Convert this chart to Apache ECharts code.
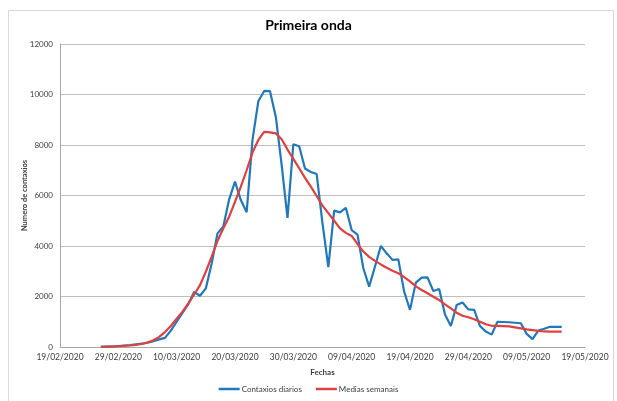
<!DOCTYPE html>
<html>
<head>
<meta charset="utf-8">
<script src="https://cdn.jsdelivr.net/npm/echarts@6/dist/echarts.min.js"></script>
<style>
  html, body { margin: 0; padding: 0; background: #ffffff; }
  #chart { width: 617px; height: 401px; }
</style>
</head>
<body>
<div id="chart"></div>
<script>
// Daily cases and 7-day means, first wave
const startDate = '19/02/2020';
const endDate = '19/05/2020';
const firstDate = '26/02/2020';

const dailyCases = [
  10, 15, 20, 40, 60, 80, 110, 130, 170, 230, 300, 360,
  650, 1000, 1350, 1700, 2180, 2030, 2320, 3310, 4500, 4770, 5850, 6550,
  5820, 5340, 8200, 9730, 10140, 10130, 9110, 7200, 5110, 8030, 7950, 7070,
  6930, 6850, 4900, 3160, 5400, 5330, 5510, 4630, 4450, 3120, 2390, 3190,
  4000, 3710, 3450, 3470, 2190, 1470, 2550, 2750, 2760, 2220, 2300, 1290,
  830, 1660, 1760, 1490, 1470, 830, 610, 490, 1000, 990, 980, 960,
  940, 520, 310, 650, 720, 800, 800, 800
];

const weeklyMeans = [
  10, 15, 20, 30, 45, 60, 85, 120, 180, 270, 400, 590,
  830, 1120, 1400, 1730, 2080, 2450, 2980, 3580, 4200, 4700, 5160, 5750,
  6350, 7000, 7700, 8200, 8520, 8500, 8460, 8230, 7820, 7450, 7080, 6700,
  6350, 5980, 5600, 5300, 5000, 4700, 4520, 4400, 4080, 3780, 3570, 3410,
  3270, 3140, 3020, 2920, 2770, 2600, 2400, 2260, 2130, 1990, 1860, 1690,
  1530, 1360, 1240, 1180, 1100, 1000, 900, 840, 840, 830, 820, 780,
  740, 700, 670, 640, 615, 610, 610, 610
];

const yTicks = [0, 2000, 4000, 6000, 8000, 10000, 12000];

const DAY = 86400000;
function parseDate(s) {
  const p = s.split('/');
  return Date.UTC(+p[2], +p[1] - 1, +p[0]);
}
function fmt(t) {
  const d = new Date(t);
  const dd = String(d.getUTCDate()).padStart(2, '0');
  const mm = String(d.getUTCMonth() + 1).padStart(2, '0');
  return dd + '/' + mm + '/' + d.getUTCFullYear();
}
const t0 = parseDate(startDate);
const tEnd = parseDate(endDate);
const tFirst = parseDate(firstDate);
const offset = Math.round((tFirst - t0) / DAY);
const span = Math.round((tEnd - t0) / DAY);

const toPoints = arr => arr.map((v, i) => [offset + i, v]);

const font = 'Lato, "Open Sans", sans-serif';
const chart = echarts.init(document.getElementById('chart'), null, { renderer: 'canvas' });

chart.setOption({
  animation: false,
  backgroundColor: '#ffffff',
  graphic: [{
    type: 'rect',
    shape: { x: 8.5, y: 10.5, width: 605, height: 395 },
    style: { fill: 'none', stroke: '#d9d9d9', lineWidth: 1 },
    silent: true
  }],
  title: {
    text: 'Primeira onda',
    left: 'center',
    top: 13,
    textStyle: { fontFamily: font, fontSize: 14, fontWeight: 'bold', color: '#000000' }
  },
  grid: { left: 60, right: 32, top: 44, bottom: 54, containLabel: false },
  legend: {
    bottom: 3,
    left: 'center',
    icon: 'rect',
    itemWidth: 21,
    itemHeight: 2.5,
    itemGap: 14,
    textStyle: { fontFamily: font, fontSize: 8, color: '#404040', padding: [0, 0, 0, -3] },
    data: ['Contaxios diarios', 'Medias semanais']
  },
  xAxis: {
    type: 'value',
    min: 0,
    max: span,
    interval: 10,
    name: 'Fechas',
    nameLocation: 'middle',
    nameGap: 21,
    nameMoveOverlap: false,
    nameTextStyle: { fontFamily: font, fontSize: 8, fontWeight: 'bold', color: '#404040' },
    axisLine: { show: true, lineStyle: { color: '#a6a6a6', width: 1 } },
    axisTick: { show: false },
    splitLine: { show: false },
    axisLabel: {
      fontFamily: font, fontSize: 8.5, color: '#404040', margin: 6,
      formatter: v => fmt(t0 + v * DAY)
    }
  },
  yAxis: {
    type: 'value',
    min: yTicks[0],
    max: yTicks[yTicks.length - 1],
    interval: yTicks[1] - yTicks[0],
    name: 'Numero de contaxios',
    nameLocation: 'middle',
    nameGap: 31,
    nameMoveOverlap: false,
    nameRotate: 90,
    nameTextStyle: { fontFamily: font, fontSize: 7.5, fontWeight: 'bold', color: '#404040' },
    axisLine: { show: true, lineStyle: { color: '#a6a6a6', width: 1 } },
    axisTick: { show: false },
    splitLine: { show: true, lineStyle: { color: '#bfbfbf', width: 1 } },
    axisLabel: {
      fontFamily: font, fontSize: 8, color: '#404040', margin: 7,
      formatter: v => String(v)
    }
  },
  series: [
    {
      name: 'Contaxios diarios',
      type: 'line',
      data: toPoints(dailyCases),
      showSymbol: false,
      symbol: 'none',
      lineStyle: { color: '#2079bd', width: 2.2 },
      itemStyle: { color: '#2079bd' },
      z: 2
    },
    {
      name: 'Medias semanais',
      type: 'line',
      data: toPoints(weeklyMeans),
      showSymbol: false,
      symbol: 'none',
      lineStyle: { color: '#e04040', width: 2.2 },
      itemStyle: { color: '#e04040' },
      z: 3
    }
  ]
});
</script>
</body>
</html>
